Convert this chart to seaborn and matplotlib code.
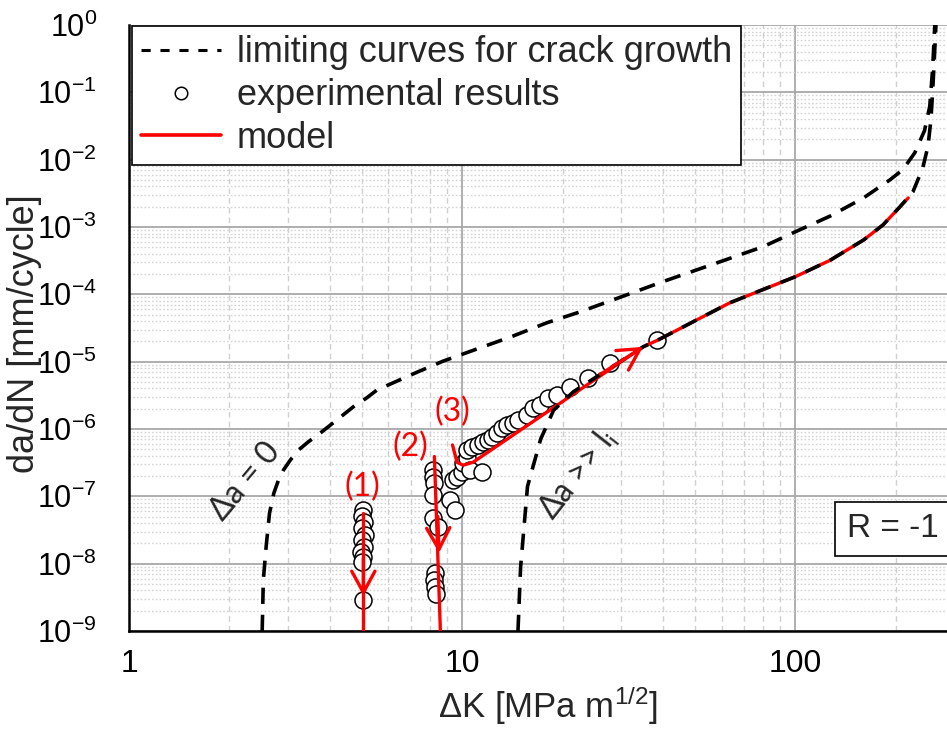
import numpy as np
import pandas as pd
import matplotlib
matplotlib.use("Agg")
import matplotlib.pyplot as plt
import seaborn as sns
from matplotlib.lines import Line2D
from matplotlib.ticker import LogLocator, NullFormatter, FuncFormatter

# ---------------- data ----------------
# limiting curve "Delta a = 0" (upper/left)
upper_dk = [2.51, 2.53, 2.58, 2.64, 2.72, 2.81, 2.91, 3.05, 3.23, 3.46, 3.75, 4.21, 4.72, 5.17,
            5.55, 7.33, 8.77, 11.3, 14.2, 18.0, 22.6, 28.4, 40.1, 56.6, 80, 100, 127, 160, 192,
            210, 228, 244, 253, 258, 262]
upper_dadn = [1e-9, 5.7e-9, 1.8e-8, 5.6e-8, 1.11e-7, 1.75e-7, 2.47e-7, 3.47e-7, 4.9e-7, 6.5e-7,
              8.7e-7, 1.37e-6, 2.15e-6, 2.9e-6, 3.8e-6, 7.0e-6, 1.02e-5, 1.6e-5, 2.4e-5, 3.8e-5,
              5.5e-5, 8.3e-5, 1.55e-4, 2.8e-4, 5.1e-4, 8.5e-4, 1.45e-3, 2.7e-3, 5.0e-3, 7.1e-3,
              1.26e-2, 2.7e-2, 6.2e-2, 0.22, 1.0]

# limiting curve "Delta a >> l_i" (lower/right)
lower_dk = [14.7, 14.97, 15.7, 17.2, 18.8, 21.6, 34.9, 38.7, 50.7, 63.6, 80, 100, 127, 160,
            183, 206, 225, 241, 250, 255, 258, 261, 264]
lower_dadn = [1e-9, 8.9e-9, 1.4e-7, 7.1e-7, 1.9e-6, 3.6e-6, 1.66e-5, 2.1e-5, 4.2e-5, 7.5e-5,
              1.18e-4, 1.83e-4, 3.2e-4, 6.4e-4, 1.07e-3, 2.0e-3, 3.3e-3, 7.5e-3, 1.6e-2,
              3.9e-2, 0.1, 0.3, 1.0]

# model paths
model1_dk = [5.05, 5.05]
model1_dadn = [5.7e-8, 1e-9]
model2_dk = [8.25, 8.6]
model2_dadn = [3.9e-7, 1e-9]
model3_dk = [9.35, 9.65, 10.06, 10.77, 34.9, 38.7, 50.7, 63.6, 80, 100, 127, 160, 183, 206, 218]
model3_dadn = [5.8e-7, 3.2e-7, 2.9e-7, 3.2e-7, 1.66e-5, 2.1e-5, 4.2e-5, 7.5e-5, 1.18e-4,
               1.83e-4, 3.2e-4, 6.4e-4, 1.07e-3, 2.0e-3, 2.7e-3]

# experimental results
exp_dk = [5.05, 5.0, 5.08, 5.02, 5.1, 5.0, 5.07, 4.98, 5.05, 5.0, 5.05,
          8.2, 8.2, 8.25, 8.2, 8.15, 8.45, 8.3, 8.25, 8.3, 8.35,
          9.2, 9.52, 9.39, 9.65, 10.0, 10.06, 10.34, 10.56, 11.47, 10.34, 10.7, 11.16,
          11.55, 11.96, 12.3, 12.7, 13.2, 13.6, 14.2, 14.7, 15.7, 16.3, 17.1, 18.1,
          19.3, 21.1, 23.9, 27.8, 38.4]
exp_dadn = [6.3e-8, 5.1e-8, 4.2e-8, 3.4e-8, 2.7e-8, 2.25e-8, 1.77e-8, 1.5e-8, 1.26e-8, 1.06e-8, 2.9e-9,
            2.5e-7, 1.95e-7, 1.6e-7, 1.05e-7, 4.8e-8, 3.5e-8, 7.3e-9, 5.7e-9, 4.5e-9, 3.5e-9,
            8.9e-8, 6.3e-8, 1.75e-7, 1.94e-7, 2.3e-7, 3.16e-7, 3.7e-7, 2.46e-7, 2.3e-7, 4.9e-7,
            5.4e-7, 5.8e-7, 6.4e-7, 6.9e-7, 7.6e-7, 8.8e-7, 1.04e-6, 1.15e-6, 1.23e-6, 1.36e-6,
            1.62e-6, 2.06e-6, 2.29e-6, 2.9e-6, 3.2e-6, 4.2e-6, 5.8e-6, 9.4e-6, 2.1e-5]

legend_labels = ["limiting curves for crack growth", "experimental results", "model"]

# ---------------- style ----------------
sns.set_style("white")
plt.rcParams["font.family"] = ["Liberation Sans", "DejaVu Sans"]
plt.rcParams["mathtext.default"] = "regular"
plt.rcParams["axes.unicode_minus"] = False

fig = plt.figure(figsize=(9.47, 7.31), dpi=100)
ax = fig.add_axes([129 / 947, 100 / 731, (947 - 129) / 947, (631 - 25) / 731])
ax.set_xscale("log")
ax.set_yscale("log")
ax.set_xlim(1, 285)
ax.set_ylim(1e-9, 1)

# grid
ax.set_axisbelow(True)
ax.xaxis.grid(True, which="major", color="#a8a8a8", lw=1.3, ls="-")
ax.yaxis.grid(True, which="major", color="#a8a8a8", lw=1.3, ls="-")
ax.xaxis.grid(True, which="minor", color="#d0d0d0", lw=1.0, ls=(0, (4, 3)))
ax.yaxis.grid(True, which="minor", color="#d4d4d4", lw=1.0, ls=(0, (1.2, 1.5)))

ax.xaxis.set_major_locator(LogLocator(base=10, numticks=10))
ax.xaxis.set_minor_locator(LogLocator(base=10, subs=np.arange(2, 10), numticks=50))
ax.yaxis.set_major_locator(LogLocator(base=10, numticks=20))
ax.yaxis.set_minor_locator(LogLocator(base=10, subs=np.arange(2, 10), numticks=100))
ax.xaxis.set_minor_formatter(NullFormatter())
ax.yaxis.set_minor_formatter(NullFormatter())
ax.xaxis.set_major_formatter(FuncFormatter(lambda v, p: f"{v:g}"))
ax.yaxis.set_major_formatter(FuncFormatter(lambda v, p: r"10$^{%d}$" % int(round(np.log10(v)))))

ax.tick_params(which="major", direction="out", length=8, width=1.5, labelsize=23, colors="black")
ax.tick_params(axis="y", which="major", labelsize=22)
ax.tick_params(which="minor", direction="out", length=4.5, width=1.2)
ax.tick_params(axis="x", pad=5)
ax.tick_params(axis="y", pad=15)

for s in ["top", "right"]:
    ax.spines[s].set_visible(False)
for s in ["left", "bottom"]:
    ax.spines[s].set_color("black")
    ax.spines[s].set_linewidth(1.8)

# ---------------- marks ----------------
sns.scatterplot(x=exp_dk, y=exp_dadn, ax=ax, s=150, marker="o", facecolor="white",
                edgecolor="black", linewidth=1.1, zorder=3, legend=False)

red_kw = dict(color="red", lw=2.4, zorder=4, sort=False, estimator=None, legend=False)
sns.lineplot(x=model1_dk, y=model1_dadn, ax=ax, **red_kw)
sns.lineplot(x=model2_dk, y=model2_dadn, ax=ax, **red_kw)
sns.lineplot(x=model3_dk, y=model3_dadn, ax=ax, **red_kw)

dash_kw = dict(color="black", lw=2.6, zorder=5, sort=False, estimator=None, legend=False)
sns.lineplot(x=upper_dk, y=upper_dadn, ax=ax, **dash_kw)
sns.lineplot(x=lower_dk, y=lower_dadn, ax=ax, **dash_kw)
for ln in ax.lines[-2:]:
    ln.set_linestyle((0, (4.5, 3)))

arrow_kw = dict(arrowstyle="->,head_length=0.7,head_width=0.38", color="red", lw=2.4,
                mutation_scale=22, shrinkA=0, shrinkB=0)
ax.annotate("", xy=(5.05, 3.3e-9), xytext=(5.05, 1.2e-8), arrowprops=arrow_kw, zorder=6)
ax.annotate("", xy=(8.52, 1.45e-8), xytext=(8.45, 5e-8), arrowprops=arrow_kw, zorder=6)
ax.annotate("", xy=(34.9, 1.66e-5), xytext=(26, 6.5e-6), arrowprops=arrow_kw, zorder=6)

# ---------------- text ----------------
ax.set_xlabel(r"$\Delta$K [MPa m$^{1/2}$]", fontsize=25)
ax.xaxis.set_label_coords(0.512, -0.123)
ax.xaxis.label.set_va("center")
ax.set_ylabel("da/dN [mm/cycle]", fontsize=26)
ax.yaxis.set_label_coords(-0.128, 0.49)
ax.yaxis.label.set_va("center")

ann_font = ["Lato", "DejaVu Sans"]
ax.text(5.0, 1.38e-7, "(1)", color="red", fontsize=23, family=ann_font, ha="center", va="center")
ax.text(6.98, 5.4e-7, "(2)", color="red", fontsize=23, family=ann_font, ha="center", va="center")
ax.text(9.33, 1.8e-6, "(3)", color="red", fontsize=23, family=ann_font, ha="center", va="center")
ax.text(2.23, 1.7e-7, "Δa = 0", fontsize=23, family=ann_font, rotation=50,
        ha="center", va="center", rotation_mode="anchor")
ax.text(22.3, 2.1e-7, r"Δa >> l$_i$", fontsize=23, family=ann_font, rotation=52,
        ha="center", va="center", rotation_mode="anchor")

ax.text(196, 3.3e-8, "R = -1", fontsize=24, family=["Liberation Sans", "DejaVu Sans"],
        ha="center", va="center", zorder=7,
        bbox=dict(boxstyle="square,pad=0.35", fc="white", ec="black", lw=1.2))

handles = [Line2D([], [], color="black", lw=2.2, ls=(0, (3, 3.2))),
           Line2D([], [], marker="o", ls="none", mfc="white", mec="black", ms=9, mew=1.1),
           Line2D([], [], color="red", lw=2.6)]
leg = ax.legend(handles, legend_labels, loc="upper left", bbox_to_anchor=(0.004, 0.998),
                borderaxespad=0, fancybox=False, framealpha=1, edgecolor="black",
                prop={"family": ["Liberation Sans", "DejaVu Sans"], "size": 26},
                handlelength=2.2, handletextpad=0.45, labelspacing=0.22, borderpad=0.25)
leg.get_frame().set_linewidth(1.2)
leg.set_zorder(10)

fig.savefig("out.png", dpi=100)
